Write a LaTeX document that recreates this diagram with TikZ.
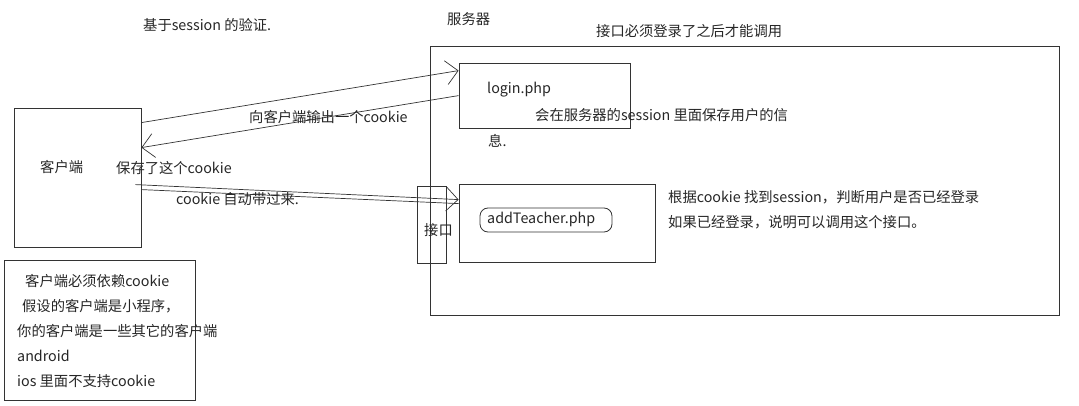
\documentclass[tikz,border=0pt]{standalone}
\usepackage{fontspec}
\setmainfont{Noto Sans CJK SC}
\usetikzlibrary{arrows.meta,positioning,calc}

\begin{document}
\begin{tikzpicture}[x=1pt,y=-1pt,
    box/.style={draw=black!80, line width=0.8pt, inner sep=0pt},
    txt/.style={anchor=west, inner sep=0pt, font=\fontsize{14.3}{17}\selectfont, text=black!85},
    link/.style={draw=black!80, line width=0.7pt},
    barb/.style={-{Straight Barb[length=12pt,width=24pt,line width=0.7pt]}}]
    \useasboundingbox (0,0) rectangle (1079,406);

    % Titles
    \node[txt] (title) at (143,25) {基于session 的验证.};
    \node[txt] (srvname) at (447,19) {服务器};
    \node[txt] (rule) at (596,31) {接口必须登录了之后才能调用};

    % Client side
    \node[box, minimum width=127pt, minimum height=139pt] (client) at (77.5,177.5) {};
    \node[txt] (clientlbl) at (40,167) {客户端};
    \node[txt] (saved) at (116,168) {保存了这个cookie};

    % Server side
    \node[box, minimum width=629pt, minimum height=269pt] (server) at (744.5,180.5) {};
    \node[box, minimum width=171pt, minimum height=65pt] (login) at (544.5,95.5) {};
    \node[txt] (loginlbl) at (487,90) {login.php};
    \node[txt] (store1) at (535,115) {会在服务器的session 里面保存用户的信};
    \node[txt] (store2) at (488,141) {息.};

    \node[box, minimum width=29pt, minimum height=77pt] (api) at (431.5,224.5) {};
    \node[txt] (apilbl) at (424,230) {接口};
    \node[box, minimum width=196pt, minimum height=78pt] (addt) at (557,223) {};
    \node[box, rounded corners=8pt, minimum width=132pt, minimum height=24pt] (pill) at (546,220) {};
    \node[txt] (addtlbl) at (487,219) {addTeacher.php};
    \node[txt] (check1) at (668,197) {根据cookie 找到session，判断用户是否已经登录};
    \node[txt] (check2) at (668,222) {如果已经登录，说明可以调用这个接口。};

    % Note on other clients
    \node[box, minimum width=191pt, minimum height=140pt] (note) at (99.5,330) {};
    \node[txt] (note1) at (25,281) {客户端必须依赖cookie};
    \node[txt] (note2) at (22,306) {假设的客户端是小程序，};
    \node[txt] (note3) at (17,331) {你的客户端是一些其它的客户端};
    \node[txt] (note4) at (17,356) {android};
    \node[txt] (note5) at (17,381) {ios 里面不支持cookie};

    % Requests and responses
    \draw[link, barb] ([yshift=-15pt]client.north east) -- ([yshift=-8pt]login.north west);
    \draw[link, barb] ([yshift=-33pt]login.north west) -- ([yshift=-40pt]client.north east);
    \node[txt] (sendlbl) at (249,117) {向客户端输出一个cookie};
    \draw[link, barb] ([xshift=-6pt,yshift=-77pt]client.north east) -- ([yshift=-16pt]addt.north west);
    \draw[link] ([yshift=-82pt]client.north east) -- ([yshift=-20pt]addt.north west);
    \node[txt] (carrylbl) at (176,199) {cookie 自动带过来.};
\end{tikzpicture}
\end{document}
